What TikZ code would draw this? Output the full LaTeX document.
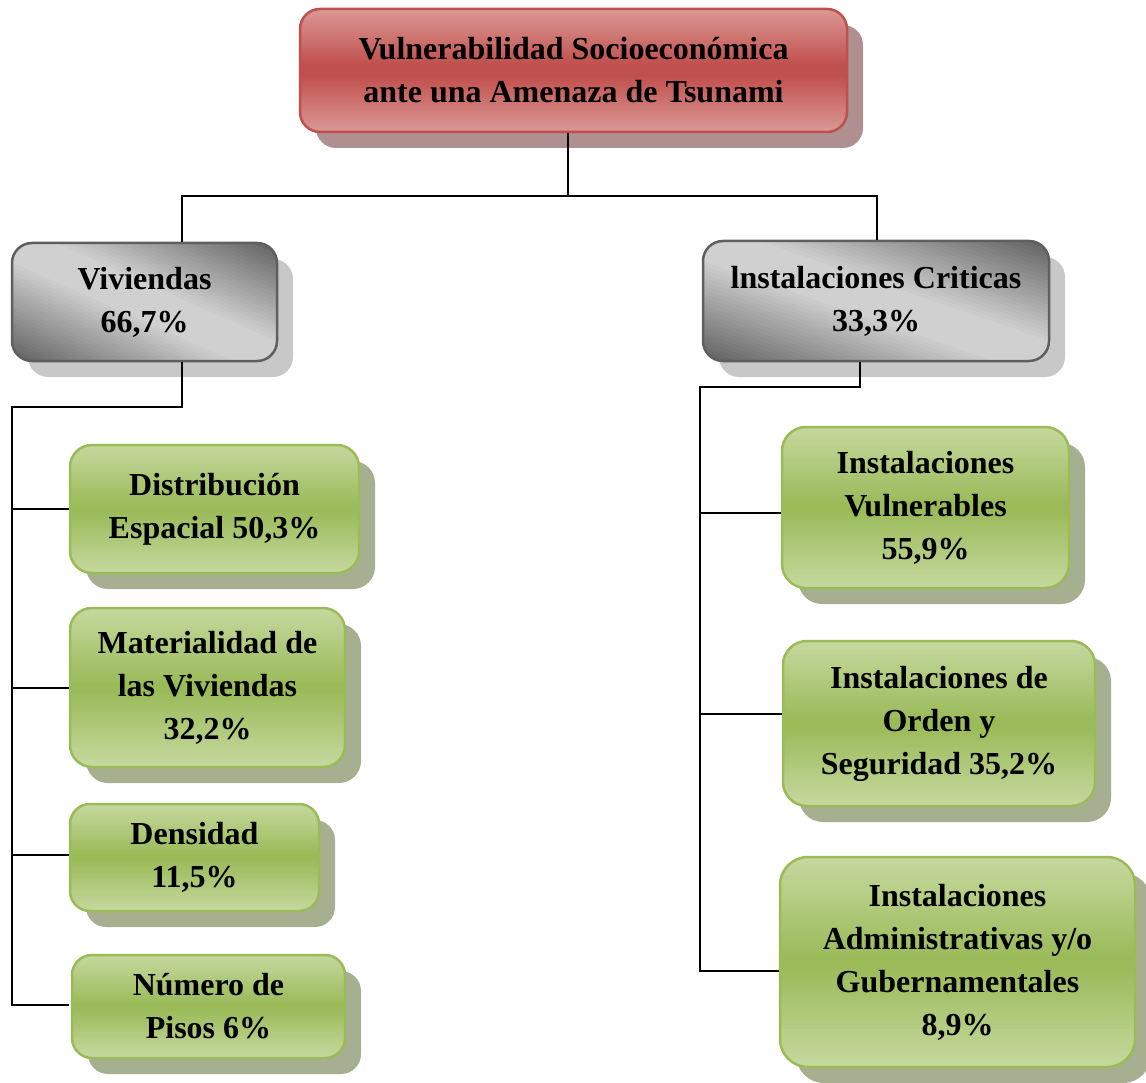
\documentclass[tikz,border=0pt]{standalone}
\usepackage{fontspec}
\setmainfont{Liberation Serif}
\usetikzlibrary{calc}
\definecolor{redB}{RGB}{192,80,77}
\definecolor{redL}{RGB}{219,152,150}
\definecolor{redM}{RGB}{192,80,77}
\definecolor{redS}{RGB}{175,143,143}
\definecolor{greyB}{RGB}{95,95,95}
\definecolor{greyL}{RGB}{96,96,96}
\definecolor{greyM}{RGB}{208,208,208}
\definecolor{greyS}{RGB}{200,200,200}
\definecolor{greenB}{RGB}{155,187,89}
\definecolor{greenL}{RGB}{197,216,158}
\definecolor{greenM}{RGB}{155,187,89}
\definecolor{greenS}{RGB}{166,176,144}
\def\redF{110}
\def\greyF{118}
\def\greenF{105}
\tikzset{
  boxtext/.style={align=center, font=\bfseries\fontsize{32}{43}\selectfont, inner sep=0pt},
  conn/.style={line width=2pt, black},
}
% #1 name, #2 cx, #3 cy, #4 w, #5 h, #6 radius, #7 kind, #8 gradient angle, #9 text
\newcommand\gbox[9]{%
  \pgfmathsetmacro\HS{(#4*abs(sin(#8))+#5*abs(cos(#8)))/2}%
  \pgfmathsetmacro\WS{#4+#5}%
  \edef\FF{\csname #7F\endcsname}%
  \fill[#7S, rounded corners=#6pt] ({#2-#4/2+16},{#3-#5/2+16}) rectangle ++(#4,#5);
  \begin{scope}
    \clip[rounded corners=#6pt] ({#2-#4/2},{#3-#5/2}) rectangle ++(#4,#5);
    \begin{scope}[shift={(#2,#3)}, rotate=#8]
      \foreach \i in {0,...,59}{%
        \pgfmathtruncatemacro\p{min(100,\FF*(1-abs(2*(\i+0.5)/60-1)))}%
        \fill[#7M!\p!#7L] (-\WS,{-\HS+\i*2*\HS/60}) rectangle (\WS,{-\HS+(\i+1)*2*\HS/60+0.8});
      }
    \end{scope}
  \end{scope}
  \node[draw=#7B, line width=2.5pt, rounded corners=#6pt, minimum width=#4pt,
        minimum height=#5pt, boxtext] (#1) at (#2,#3) {#9};
}
\begin{document}
\begin{tikzpicture}[x=1pt,y=-1pt]
\useasboundingbox (0,0) rectangle (1146,1083);
% nodes
\gbox{top}{573.5}{70.5}{547}{123}{20}{red}{0}{Vulnerabilidad Socioeconómica\\ante una Amenaza de Tsunami}
\gbox{viv}{144.5}{302}{265}{118}{20}{grey}{-24}{Viviendas\\66,7\%}
\gbox{inst}{876}{301}{346}{120}{20}{grey}{-19}{lnstalaciones Criticas\\33,3\%}
\gbox{dist}{214.5}{509}{289}{128}{22}{green}{0}{Distribución\\Espacial 50,3\%}
\gbox{mat}{207.5}{687.5}{275}{159}{22}{green}{0}{Materialidad de\\las Viviendas\\32,2\%}
\gbox{dens}{194.5}{857.5}{249}{107}{20}{green}{0}{Densidad\\11,5\%}
\gbox{num}{208.5}{1006.5}{273}{103}{20}{green}{0}{Número de\\Pisos 6\%}
\gbox{vul}{925.5}{507.5}{287}{161}{24}{green}{0}{Instalaciones\\Vulnerables\\55,9\%}
\gbox{ord}{939}{723.5}{312}{165}{24}{green}{0}{Instalaciones de\\Orden y\\Seguridad 35,2\%}
\gbox{adm}{957.5}{962}{355}{210}{28}{green}{0}{Instalaciones\\Administrativas y/o\\Gubernamentales\\8,9\%}
% connectors
\coordinate (j0) at (568,196);
\coordinate (jL) at (12,407);
\coordinate (jR) at (700,387);
\draw[conn] ([xshift=-5.5pt]top.south) -- (j0);
\draw[conn] ([xshift=37.5pt]viv.north) |- (j0);
\draw[conn] ([xshift=1pt]inst.north) |- (j0);
% left branch
\coordinate (bdist) at (dist.west);
\coordinate (bmat) at ([yshift=-0.5pt]mat.west);
\coordinate (bdens) at ([yshift=3pt]dens.west);
\coordinate (bnum) at ([xshift=-2pt,yshift=1.5pt]num.west);
\draw[conn] ([xshift=37.5pt]viv.south) |- (jL) |- (bnum);
\draw[conn] (bdist) -- (bdist -| jL);
\draw[conn] (bmat) -- (bmat -| jL);
\draw[conn] (bdens) -- (bdens -| jL);
% right branch
\coordinate (bvul) at ([yshift=-5.5pt]vul.west);
\coordinate (bord) at ([yshift=9.5pt]ord.west);
\coordinate (badm) at ([yshift=-9pt]adm.west);
\draw[conn] ([xshift=-16pt]inst.south) |- (jR) |- (badm);
\draw[conn] (bvul) -- (bvul -| jR);
\draw[conn] (bord) -- (bord -| jR);
\end{tikzpicture}
\end{document}
